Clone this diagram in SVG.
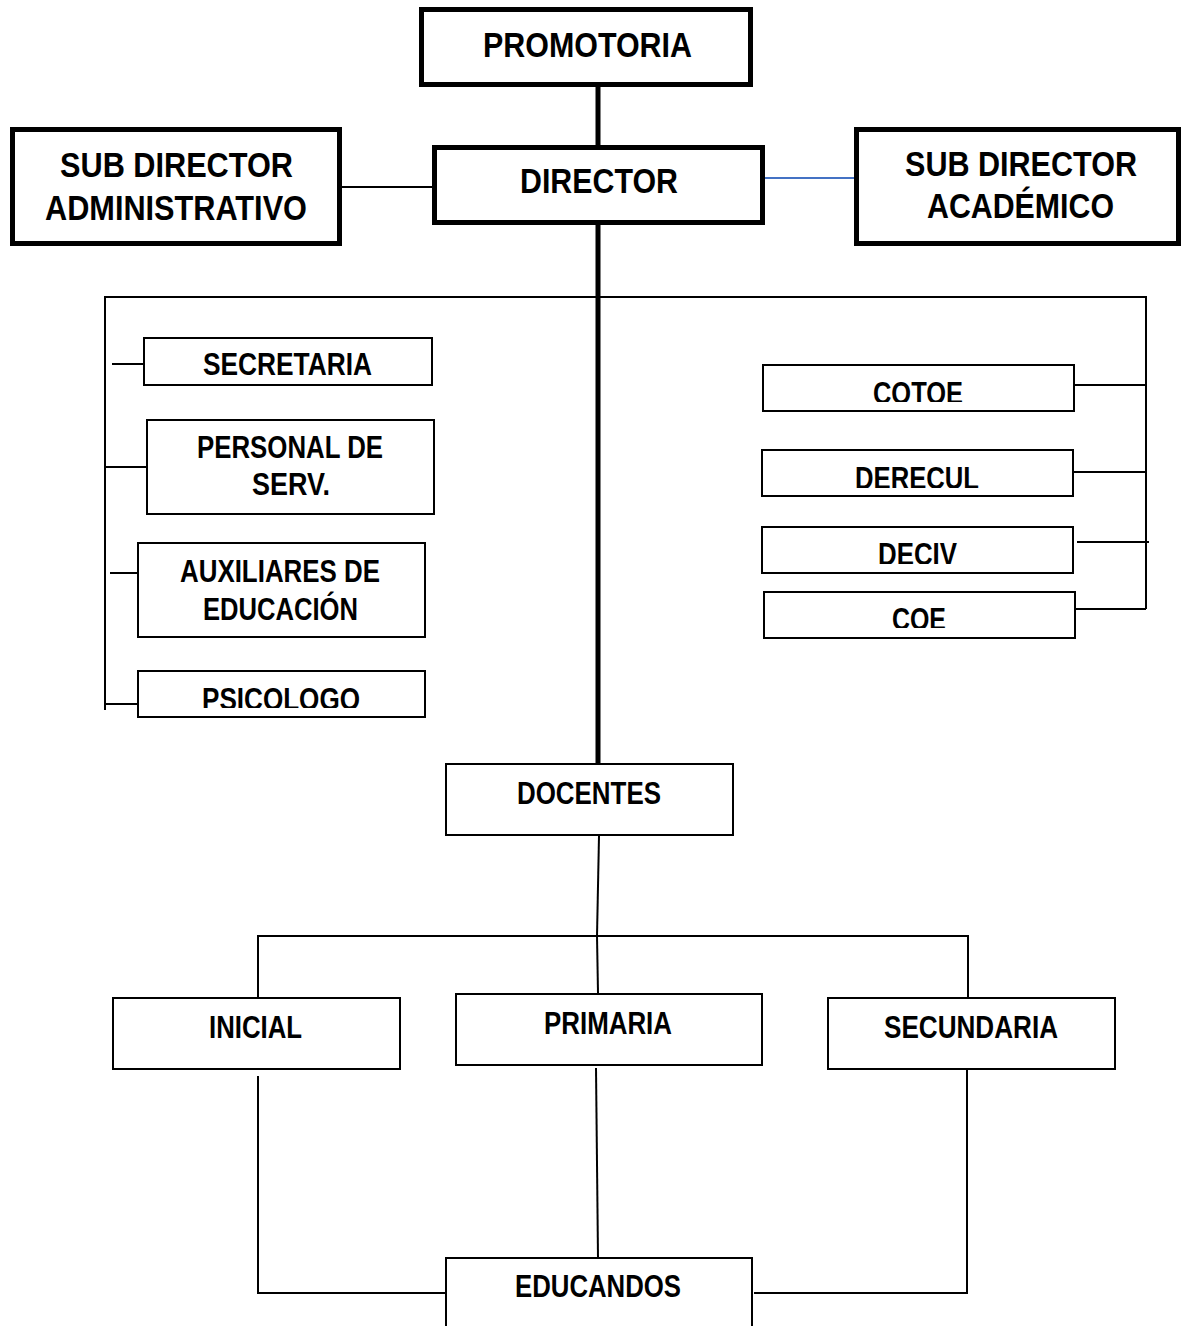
<svg xmlns="http://www.w3.org/2000/svg" width="1184" height="1326" viewBox="0 0 1184 1326">
<style>
.big{fill:#fff;stroke:#000;stroke-width:5}
.box{fill:#fff;stroke:#000;stroke-width:2}
.t{font-family:"Liberation Sans",Arial,sans-serif;font-weight:bold;fill:#000}
.tb{font-size:35px}
.ts{font-size:31px}
.thin{stroke:#000;stroke-width:2;fill:none}
.thick{stroke:#000;stroke-width:5;fill:none}
</style>
<defs>
<clipPath id="cPsi"><rect x="0" y="0" width="1184" height="708"/></clipPath>
<clipPath id="cCotoe"><rect x="0" y="0" width="1184" height="402"/></clipPath>
<clipPath id="cDerecul"><rect x="0" y="0" width="1184" height="488"/></clipPath>
<clipPath id="cDeciv"><rect x="0" y="0" width="1184" height="564"/></clipPath>
<clipPath id="cCoe"><rect x="0" y="0" width="1184" height="628"/></clipPath>
</defs>
<g id="connectors">
<line class="thick" x1="598" y1="86" x2="598" y2="146"/>
<line class="thick" x1="598" y1="224" x2="598" y2="764"/>
<line class="thin" x1="341" y1="187" x2="433" y2="187"/>
<line x1="764" y1="178" x2="856" y2="178" stroke="#4472C4" stroke-width="2"/>
<polyline class="thin" points="105,710 105,297 1146,297 1146,609"/>
<line class="thin" x1="112" y1="364" x2="144" y2="364"/>
<line class="thin" x1="105" y1="467" x2="146" y2="467"/>
<line class="thin" x1="110" y1="573" x2="137" y2="573"/>
<line class="thin" x1="105" y1="704" x2="137" y2="704"/>
<line class="thin" x1="1074" y1="385" x2="1146" y2="385"/>
<line class="thin" x1="1073" y1="472" x2="1146" y2="472"/>
<line class="thin" x1="1077" y1="542" x2="1149" y2="542"/>
<line class="thin" x1="1075" y1="609" x2="1146" y2="609"/>
<line class="thin" x1="599" y1="836" x2="597" y2="936"/>
<line class="thin" x1="597" y1="936" x2="598" y2="993"/>
<polyline class="thin" points="258,998 258,936 968,936 968,998"/>
<polyline class="thin" points="258,1076 258,1293 446,1293"/>
<line class="thin" x1="596" y1="1068" x2="598" y2="1258"/>
<polyline class="thin" points="967,1066 967,1293 754,1293"/>
</g>
<g id="promotoria">
<rect class="big" x="421.5" y="9.5" width="329" height="75"/>
<text class="t tb" x="483" y="57" textLength="209" lengthAdjust="spacingAndGlyphs">PROMOTORIA</text>
</g>
<g id="director">
<rect class="big" x="434.5" y="147.5" width="328" height="75"/>
<text class="t tb" x="520" y="193" textLength="158" lengthAdjust="spacingAndGlyphs">DIRECTOR</text>
</g>
<g id="sub-admin">
<rect class="big" x="12.5" y="129.5" width="327" height="114"/>
<text class="t tb" x="60" y="177" textLength="233" lengthAdjust="spacingAndGlyphs">SUB DIRECTOR</text>
<text class="t tb" x="45" y="220" textLength="262" lengthAdjust="spacingAndGlyphs">ADMINISTRATIVO</text>
</g>
<g id="sub-academico">
<rect class="big" x="856.5" y="129.5" width="322" height="114"/>
<text class="t tb" x="905" y="176" textLength="232" lengthAdjust="spacingAndGlyphs">SUB DIRECTOR</text>
<text class="t tb" x="927" y="218" textLength="187" lengthAdjust="spacingAndGlyphs">ACADÉMICO</text>
</g>
<g id="secretaria">
<rect class="box" x="144" y="338" width="288" height="47"/>
<text class="t ts" x="203" y="375" textLength="169" lengthAdjust="spacingAndGlyphs">SECRETARIA</text>
</g>
<g id="personal">
<rect class="box" x="147" y="420" width="287" height="94"/>
<text class="t ts" x="197" y="458" textLength="186" lengthAdjust="spacingAndGlyphs">PERSONAL DE</text>
<text class="t ts" x="252" y="495" textLength="78" lengthAdjust="spacingAndGlyphs">SERV.</text>
</g>
<g id="auxiliares">
<rect class="box" x="138" y="543" width="287" height="94"/>
<text class="t ts" x="180" y="582" textLength="200" lengthAdjust="spacingAndGlyphs">AUXILIARES DE</text>
<text class="t ts" x="203" y="620" textLength="155" lengthAdjust="spacingAndGlyphs">EDUCACIÓN</text>
</g>
<g id="psicologo">
<rect class="box" x="138" y="671" width="287" height="46"/>
<text class="t ts" x="202" y="710" textLength="158" lengthAdjust="spacingAndGlyphs" clip-path="url(#cPsi)">PSICOLOGO</text>
</g>
<g id="cotoe">
<rect class="box" x="763" y="365" width="311" height="46"/>
<text class="t ts" x="873" y="404" textLength="90" lengthAdjust="spacingAndGlyphs" clip-path="url(#cCotoe)">COTOE</text>
</g>
<g id="derecul">
<rect class="box" x="762" y="450" width="311" height="46"/>
<text class="t ts" x="855" y="489" textLength="124" lengthAdjust="spacingAndGlyphs" clip-path="url(#cDerecul)">DERECUL</text>
</g>
<g id="deciv">
<rect class="box" x="762" y="527" width="311" height="46"/>
<text class="t ts" x="878" y="565" textLength="79" lengthAdjust="spacingAndGlyphs" clip-path="url(#cDeciv)">DECIV</text>
</g>
<g id="coe">
<rect class="box" x="764" y="592" width="311" height="46"/>
<text class="t ts" x="892" y="630" textLength="54" lengthAdjust="spacingAndGlyphs" clip-path="url(#cCoe)">COE</text>
</g>
<g id="docentes">
<rect class="box" x="446" y="764" width="287" height="71"/>
<text class="t ts" x="517" y="804" textLength="144" lengthAdjust="spacingAndGlyphs">DOCENTES</text>
</g>
<g id="inicial">
<rect class="box" x="113" y="998" width="287" height="71"/>
<text class="t ts" x="209" y="1038" textLength="93" lengthAdjust="spacingAndGlyphs">INICIAL</text>
</g>
<g id="primaria">
<rect class="box" x="456" y="994" width="306" height="71"/>
<text class="t ts" x="544" y="1034" textLength="128" lengthAdjust="spacingAndGlyphs">PRIMARIA</text>
</g>
<g id="secundaria">
<rect class="box" x="828" y="998" width="287" height="71"/>
<text class="t ts" x="884" y="1038" textLength="174" lengthAdjust="spacingAndGlyphs">SECUNDARIA</text>
</g>
<g id="educandos">
<rect class="box" x="446" y="1258" width="306" height="90"/>
<text class="t ts" x="515" y="1297" textLength="166" lengthAdjust="spacingAndGlyphs">EDUCANDOS</text>
</g>
</svg>
